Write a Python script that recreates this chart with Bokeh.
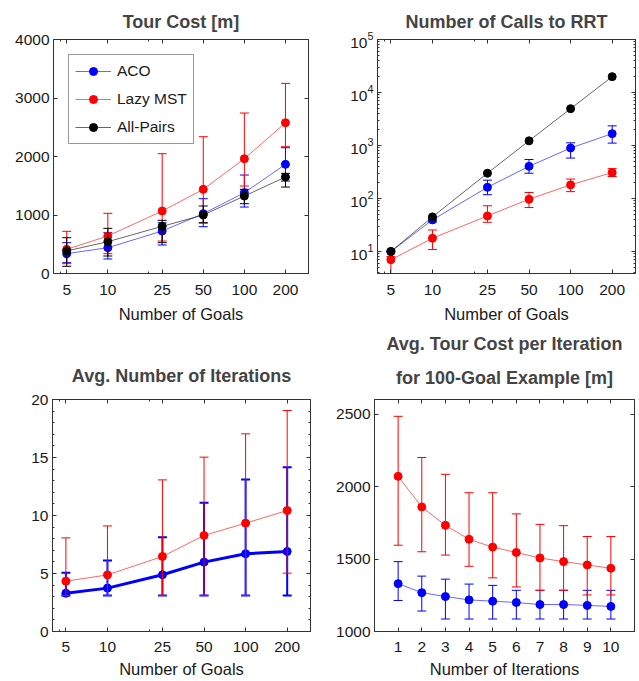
from bokeh.plotting import figure
from bokeh.models import (ColumnDataSource, FixedTicker, LogAxis, LinearAxis,
                          CustomJSTickFormatter, Title, Range1d, NumeralTickFormatter)
from bokeh.layouts import column, row
from bokeh.embed import file_html
from bokeh.resources import INLINE

# ---------------- data ----------------
goals = [5, 10, 25, 50, 100, 200]

# Tour cost [m]
cost_aco = [339, 441, 726, 1022, 1381, 1866]
cost_aco_hi = [527, 697, 868, 1279, 1683, 2150]
cost_aco_lo = [185, 248, 487, 800, 1136, 1580]
cost_lazy = [413, 641, 1068, 1439, 1962, 2577]
cost_lazy_hi = [721, 1029, 2048, 2338, 2743, 3250]
cost_lazy_lo = [168, 339, 555, 860, 1495, 2167]
cost_all = [385, 544, 806, 1000, 1324, 1649]
cost_all_hi = [612, 772, 909, 1154, 1439, 1712]
cost_all_lo = [123, 299, 527, 869, 1193, 1478]

# Number of calls to RRT
calls_aco = [10, 39.5, 163, 405, 897, 1675]
calls_aco_hi = [10.5, 44, 222, 545, 1125, 2350]
calls_aco_lo = [9.5, 36, 118, 300, 580, 1110]
calls_lazy = [7, 17.8, 47, 97, 181, 309]
calls_lazy_hi = [8, 25.5, 73, 130, 233, 366]
calls_lazy_lo = [1, 10.9, 35.6, 67.6, 135, 260]
calls_all = [10, 45, 300, 1225, 4950, 19900]

# Avg. number of iterations
iter_aco = [3.3, 3.74, 4.89, 5.98, 6.7, 6.9]
iter_aco_hi = [5.06, 6.12, 8.13, 11.09, 13.1, 14.17]
iter_aco_lo = [3.1, 3.1, 3.1, 3.1, 3.1, 3.1]
iter_lazy = [4.34, 4.88, 6.47, 8.28, 9.34, 10.43]
iter_lazy_hi = [8.07, 9.1, 13.07, 15.03, 17.04, 19.05]
iter_lazy_lo = [3.1, 3.1, 3.1, 3.1, 3.1, 5.03]

# Avg. tour cost per iteration, 100-goal example
iterations = [1, 2, 3, 4, 5, 6, 7, 8, 9, 10]
pi_lazy = [2070, 1859, 1732, 1636, 1582, 1545, 1507, 1482, 1459, 1436]
pi_lazy_hi = [2484, 2200, 2084, 1957, 1957, 1811, 1739, 1730, 1655, 1655]
pi_lazy_lo = [1595, 1550, 1527, 1450, 1370, 1307, 1284, 1284, 1252, 1252]
pi_aco = [1330, 1268, 1241, 1218, 1209, 1200, 1186, 1186, 1180, 1173]
pi_aco_hi = [1482, 1382, 1361, 1327, 1318, 1284, 1284, 1284, 1284, 1284]
pi_aco_lo = [1214, 1141, 1086, 1086, 1086, 1086, 1086, 1086, 1086, 1086]

goal_ticks = [5, 10, 25, 50, 100, 200]
goal_minor = [4.5, 20]
cost_ticks = [0, 1000, 2000, 3000, 4000]
calls_ticks = [10, 100, 1000, 10000, 100000]
iter_ticks = [0, 5, 10, 15, 20]
iter_minor = [1, 2, 3, 4, 6, 7, 8, 9, 11, 12, 13, 14, 16, 17, 18, 19]
pi_ticks = [1000, 1500, 2000, 2500]

BLUE = "#0000ff"
RED = "#ff0000"
BLACK = "#000000"
AX = "#333333"
FONT = "Liberation Sans"
TITLE_SIZE = "18px"


def style(p, xlabel, tick_standoff=11, label_standoff=7, title_standoff=16):
    p.title.text_font = FONT
    p.title.text_font_size = TITLE_SIZE
    p.title.text_font_style = "bold"
    p.title.align = "center"
    p.title.standoff = title_standoff
    p.xgrid.visible = False
    p.ygrid.visible = False
    p.outline_line_color = AX
    p.outline_line_width = 1
    p.background_fill_color = "white"
    p.border_fill_color = "white"
    for ax in list(p.xaxis) + list(p.yaxis):
        ax.major_tick_in = 4
        ax.major_tick_out = 0
        ax.minor_tick_in = 2
        ax.minor_tick_out = 0
        ax.axis_line_color = AX
        ax.major_tick_line_color = AX
        ax.minor_tick_line_color = AX
        ax.major_label_text_font = FONT
        ax.major_label_text_font_size = "15.5px"
        ax.major_label_text_color = "#1a1a1a"
        ax.axis_label_text_font = FONT
        ax.axis_label_text_font_size = "16.5px"
        ax.axis_label_text_font_style = "normal"
        ax.axis_label_text_color = "#1a1a1a"
    p.yaxis.major_label_standoff = 4
    p.xaxis.major_label_standoff = tick_standoff
    p.xaxis.axis_label_standoff = label_standoff
    p.xaxis.axis_label = xlabel


def box_axes(p, xlog, ylog, xticker, yticker):
    blank = CustomJSTickFormatter(code="return ''")
    XA = LogAxis if xlog else LinearAxis
    YA = LogAxis if ylog else LinearAxis
    top = XA(ticker=xticker, formatter=blank, major_label_standoff=0,
             major_label_text_font_size="1px")
    right = YA(ticker=yticker, formatter=blank, major_label_standoff=0,
               major_label_text_font_size="1px")
    for ax in (top, right):
        ax.major_tick_in = 4
        ax.major_tick_out = 0
        ax.minor_tick_in = 2
        ax.minor_tick_out = 0
        ax.axis_line_color = AX
        ax.major_tick_line_color = AX
        ax.minor_tick_line_color = AX
    p.add_layout(top, "above")
    p.add_layout(right, "right")


def errbars(p, x, lo, hi, color, width=1, cap=9):
    src = ColumnDataSource(dict(x=x, lo=lo, hi=hi))
    p.segment(x0="x", y0="lo", x1="x", y1="hi", source=src,
              line_color=color, line_width=width)
    p.scatter(x="x", y="lo", marker="dash", size=cap, source=src,
              line_color=color, line_width=width)
    p.scatter(x="x", y="hi", marker="dash", size=cap, source=src,
              line_color=color, line_width=width)


def series(p, x, y, color, label=None, lw=1, alpha=0.6, size=8):
    kw = {"legend_label": label} if label else {}
    p.line(x, y, line_color=color, line_width=lw, line_alpha=alpha, **kw)
    p.scatter(x, y, size=size, fill_color=color, line_color=color, **kw)


common = dict(output_backend="svg", toolbar_location=None)

# ---------------- Plot 1: Tour cost ----------------
p1 = figure(width=320, height=329, x_axis_type="log",
            x_range=Range1d(4, 295), y_range=Range1d(0, 4000),
            min_border_left=53, min_border_right=12, min_border_top=39,
            min_border_bottom=56, title="Tour Cost [m]", **common)
p1.xaxis.ticker = FixedTicker(ticks=goal_ticks, minor_ticks=goal_minor)
p1.xaxis.formatter = NumeralTickFormatter(format="0")
p1.yaxis.ticker = FixedTicker(ticks=cost_ticks)
errbars(p1, goals, cost_aco_lo, cost_aco_hi, BLUE)
series(p1, goals, cost_aco, BLUE, "ACO")
errbars(p1, goals, cost_lazy_lo, cost_lazy_hi, RED)
series(p1, goals, cost_lazy, RED, "Lazy MST")
errbars(p1, goals, cost_all_lo, cost_all_hi, BLACK)
series(p1, goals, cost_all, BLACK, "All-Pairs")
style(p1, "Number of Goals", title_standoff=16)
box_axes(p1, True, False, FixedTicker(ticks=goal_ticks, minor_ticks=goal_minor),
         FixedTicker(ticks=cost_ticks))
lg = p1.legend[0]
lg.location = "top_left"
lg.margin = 15
lg.padding = 6
lg.spacing = 8
lg.glyph_width = 36
lg.glyph_height = 20
lg.label_height = 20
lg.label_standoff = 6
lg.label_text_font = FONT
lg.label_text_font_size = "15.5px"
lg.label_text_color = "#1a1a1a"
lg.border_line_color = AX
lg.border_line_width = 1
lg.background_fill_alpha = 1

# ---------------- Plot 2: Calls to RRT ----------------
calls_minor = [m * 10 ** e for e in range(0, 5) for m in range(2, 10)]
p2 = figure(width=319, height=329, x_axis_type="log", y_axis_type="log",
            x_range=Range1d(4, 295), y_range=Range1d(3.85, 1e5),
            min_border_left=57, min_border_right=4, min_border_top=39,
            min_border_bottom=56, title="Number of Calls to RRT", **common)
p2.xaxis.ticker = FixedTicker(ticks=goal_ticks, minor_ticks=goal_minor)
p2.xaxis.formatter = NumeralTickFormatter(format="0")
p2.yaxis.ticker = FixedTicker(ticks=calls_ticks, minor_ticks=calls_minor)
errbars(p2, goals, calls_aco_lo, calls_aco_hi, BLUE)
series(p2, goals, calls_aco, BLUE)
errbars(p2, goals, calls_lazy_lo, calls_lazy_hi, RED)
series(p2, goals, calls_lazy, RED)
series(p2, goals, calls_all, BLACK)
style(p2, "Number of Goals", title_standoff=16)
box_axes(p2, True, True, FixedTicker(ticks=goal_ticks, minor_ticks=goal_minor),
         FixedTicker(ticks=calls_ticks, minor_ticks=calls_minor))

# ---------------- Plot 3: Avg. number of iterations ----------------
p3 = figure(width=320, height=351, x_axis_type="log",
            x_range=Range1d(4, 295), y_range=Range1d(0, 20),
            min_border_left=52, min_border_right=10, min_border_top=70,
            min_border_bottom=49, title="Avg. Number of Iterations", **common)
p3.xaxis.ticker = FixedTicker(ticks=goal_ticks, minor_ticks=goal_minor)
p3.xaxis.formatter = NumeralTickFormatter(format="0")
p3.yaxis.ticker = FixedTicker(ticks=iter_ticks, minor_ticks=iter_minor)
errbars(p3, goals, iter_aco_lo, iter_aco_hi, BLUE, width=2)
series(p3, goals, iter_aco, BLUE, lw=3, alpha=1)
errbars(p3, goals, iter_lazy_lo, iter_lazy_hi, RED)
series(p3, goals, iter_lazy, RED)
style(p3, "Number of Goals", tick_standoff=10, label_standoff=5, title_standoff=28)
box_axes(p3, True, False, FixedTicker(ticks=goal_ticks, minor_ticks=goal_minor),
         FixedTicker(ticks=iter_ticks, minor_ticks=iter_minor))

# ---------------- Plot 4: Avg. tour cost per iteration ----------------
p4 = figure(width=319, height=351,
            x_range=Range1d(0, 11), y_range=Range1d(1000, 2600),
            min_border_left=54, min_border_right=5, min_border_top=70,
            min_border_bottom=49, title="Avg. Tour Cost per Iteration", **common)
p4.xaxis.ticker = FixedTicker(ticks=iterations)
p4.yaxis.ticker = FixedTicker(ticks=pi_ticks)
errbars(p4, iterations, pi_aco_lo, pi_aco_hi, BLUE)
series(p4, iterations, pi_aco, BLUE)
errbars(p4, iterations, pi_lazy_lo, pi_lazy_hi, RED)
series(p4, iterations, pi_lazy, RED)
style(p4, "Number of Iterations", tick_standoff=10, label_standoff=5, title_standoff=0)
box_axes(p4, False, False, FixedTicker(ticks=iterations), FixedTicker(ticks=pi_ticks))
sub = Title(text="for 100-Goal Example [m]", align="center", text_font=FONT,
            text_font_size=TITLE_SIZE, text_font_style="bold", standoff=24)
p4.add_layout(sub, "above")

layout = column(row(p1, p2), row(p3, p4))
open("out.html", "w").write(file_html(layout, INLINE))
